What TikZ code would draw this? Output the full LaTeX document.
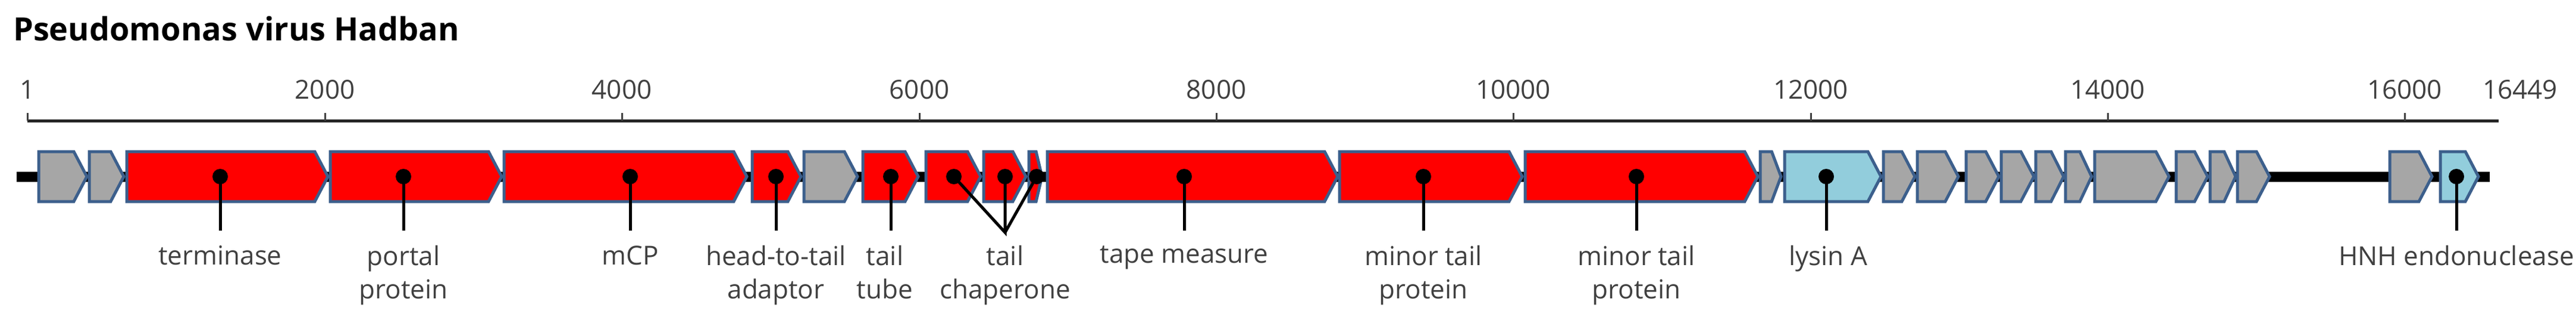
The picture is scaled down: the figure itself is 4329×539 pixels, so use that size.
\documentclass[tikz,border=0pt]{standalone}
\usepackage{fontspec}
\setmainfont{Open Sans}
\begin{document}
\begin{tikzpicture}[x=1pt,y=-1pt,
  genebox/.style={draw=gstroke,line width=5pt,line join=miter},
  stem/.style={line width=5pt,black},
  lbl/.style={font=\fontsize{44}{56}\selectfont,text=txt,align=center,anchor=north,inner sep=0pt},
  tlbl/.style={font=\fontsize{44}{56}\selectfont,text=txt,anchor=base,inner sep=0pt}]
\definecolor{gstroke}{HTML}{3C5F8C}
\definecolor{ggray}{HTML}{A6A6A6}
\definecolor{gred}{HTML}{FF0000}
\definecolor{gblue}{HTML}{92CDDC}
\definecolor{txt}{HTML}{404040}
\useasboundingbox (0,0) rectangle (4329,539);
\fill[white] (0,0) rectangle (4329,539);
% title
\node[anchor=base west,inner sep=0pt,font=\bfseries\fontsize{54}{60}\selectfont] (title) at (22,68) {Pseudomonas virus Hadban};
% axis
\draw[line width=5pt,color=black!85] (46,203) -- (4199,203);
\foreach \v/\xx in {1/46,2000/546,4000/1045,6000/1545,8000/2044,10000/2543,12000/3043,14000/3542,16000/4041}{
  \draw[line width=3pt,color=black!75] (\xx,190) -- (\xx,203);
  \node[tlbl] (t\v) at (\xx,166) {\v};
}
\node[tlbl] (tend) at (4235,166) {16449};
% backbone
\draw[line width=17pt,black] (28,297) -- (4184,297);
% genes
\newcommand{\gene}[3]{%
  \pgfmathsetmacro{\tipl}{min(22,0.45*(#2-#1))}%
  \draw[genebox,fill=#3] (#1,255) -- ({#2-\tipl},255) -- (#2,297) -- ({#2-\tipl},339) -- (#1,339) -- cycle;}
\gene{65}{146}{ggray}
\gene{150}{208}{ggray}
\gene{213}{551}{gred}
\gene{555}{843}{gred}
\gene{847}{1255}{gred}
\gene{1264}{1346}{gred}
\gene{1351}{1441}{ggray}
\gene{1450}{1543}{gred}
\gene{1556}{1648}{gred}
\gene{1653}{1724}{gred}
\gene{1729}{1751}{gred}
\gene{1760}{2248}{gred}
\gene{2251}{2558}{gred}
\gene{2563}{2954}{gred}
\gene{2958}{2993}{ggray}
\gene{2999}{3161}{gblue}
\gene{3165}{3218}{ggray}
\gene{3222}{3291}{ggray}
\gene{3304}{3359}{ggray}
\gene{3363}{3418}{ggray}
\gene{3421}{3468}{ggray}
\gene{3471}{3515}{ggray}
\gene{3520}{3645}{ggray}
\gene{3657}{3710}{ggray}
\gene{3714}{3757}{ggray}
\gene{3760}{3814}{ggray}
\gene{4016}{4087}{ggray}
\gene{4101}{4165}{gblue}
% markers
\foreach \n/\xx in {d1/370,d2/678,d3/1059,d4/1304,d5/1497,d6/1603,d7/1689,d8/1742,d9/1990,d10/2392,d11/2750,d12/3069,d13/4128}{
  \fill[black] (\xx,297) circle (13);
  \coordinate (\n) at (\xx,297);
}
\foreach \n in {d1,d2,d3,d4,d5,d9,d10,d11,d12,d13}{
  \draw[stem] (\n) -- ++(0,91) coordinate (\n e);
}
\coordinate (chap) at (1689,391);
\draw[stem,line join=miter] (d6) -- (chap) -- (d7) (chap) -- (d8);
% labels
\node[lbl] (l1) at (370,413) {terminase};
\node[lbl] (l2) at (678,413) {portal\\protein};
\node[lbl] (l3) at (1059,413) {mCP};
\node[lbl] (l4) at (1304,413) {head-to-tail\\adaptor};
\node[lbl] (l5) at (1487,413) {tail\\tube};
\node[lbl] (l6) at (1689,413) {tail\\chaperone};
\node[lbl] (l7) at (1990,413) {tape measure};
\node[lbl] (l8) at (2392,413) {minor tail\\protein};
\node[lbl] (l9) at (2750,413) {minor tail\\protein};
\node[lbl] (l10) at (3072,413) {lysin A};
\node[lbl] (l11) at (4128,413) {HNH endonuclease};
\end{tikzpicture}
\end{document}
